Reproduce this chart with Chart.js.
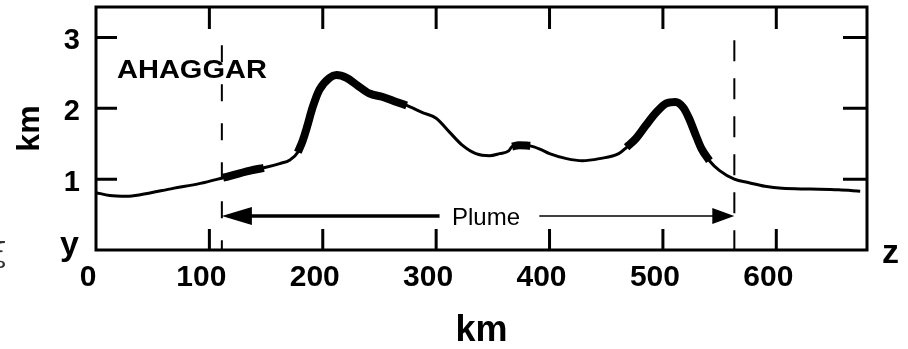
<!DOCTYPE html>
<html lang="en">
<head>
<meta charset="UTF-8">
<title>Ahaggar plume section</title>
<script src="https://cdn.jsdelivr.net/npm/chart.js"></script>
<style>
  body { margin: 0; background: #fff; }
  #wrap { width: 908px; height: 349px; }
</style>
</head>
<body>
<div id="wrap"><canvas id="myChart"></canvas></div>
<script>

// terrain profile: distance (km) and height (km)
const distKm = [0, 12, 27, 39, 68, 92, 112, 136, 148, 162, 171, 178, 182, 186, 191, 197, 206, 212, 221, 230, 241, 253, 265, 274, 288, 300, 312, 323, 335, 347, 356, 364, 367, 373, 383, 392, 400, 415, 429, 444, 461, 468, 476, 485, 494, 503, 511, 518, 523, 529, 534, 541, 550, 563, 576, 590, 605, 630, 655, 674];
const heightKm = [0.81, 0.77, 0.76, 0.78, 0.87, 0.94, 1.02, 1.12, 1.16, 1.22, 1.27, 1.38, 1.53, 1.73, 2.01, 2.26, 2.43, 2.47, 2.43, 2.33, 2.21, 2.16, 2.09, 2.04, 1.94, 1.86, 1.66, 1.48, 1.36, 1.33, 1.36, 1.4, 1.46, 1.48, 1.47, 1.42, 1.36, 1.29, 1.26, 1.29, 1.36, 1.45, 1.57, 1.76, 1.94, 2.07, 2.09, 2.01, 1.86, 1.62, 1.43, 1.26, 1.12, 1.0, 0.95, 0.9, 0.87, 0.86, 0.85, 0.83];

// parts of the profile drawn with the heavy line
const thickRanges = [[112, 148], [178, 274], [366, 385], [468, 541]];

// plume limits (dashed lines) and the arrow under the profile
const plumeX = [111, 563];
const plumeTop = [2.89, 2.96];
const plumeY = 0.48;
const labelGap = [303, 391];

const xTicks = [0, 100, 200, 300, 400, 500, 600];
const yTicks = [1, 2, 3];

const FONT = "'Liberation Sans', Arial, sans-serif";

function inThick(d) {
  return thickRanges.some(r => d >= r[0] && d <= r[1]);
}

const profile = distKm.map((d, i) => ({x: d, y: heightKm[i]}));
const heavy = distKm.map((d, i) => ({x: d, y: inThick(d) ? heightKm[i] : null}));

const decor = {
  id: 'decor',
  afterDraw(chart) {
    const {ctx, chartArea: a, scales: {x, y}} = chart;
    ctx.save();
    ctx.strokeStyle = '#000';
    ctx.fillStyle = '#000';
    ctx.lineWidth = 3;
    ctx.strokeRect(a.left, a.top, a.right - a.left, a.bottom - a.top);

    // inward ticks
    ctx.beginPath();
    xTicks.forEach(v => {
      if (v === 0) return;
      const px = x.getPixelForValue(v);
      ctx.moveTo(px, a.bottom); ctx.lineTo(px, a.bottom - 21);
      ctx.moveTo(px, a.top); ctx.lineTo(px, a.top + 22);
    });
    yTicks.forEach(v => {
      const py = y.getPixelForValue(v);
      ctx.moveTo(a.left, py); ctx.lineTo(a.left + 21, py);
      ctx.moveTo(a.right, py); ctx.lineTo(a.right - 24, py);
    });
    ctx.stroke();

    // arrow heads
    const ay = y.getPixelForValue(plumeY);
    const lx = x.getPixelForValue(plumeX[0]);
    const rx = x.getPixelForValue(plumeX[1]);
    ctx.beginPath();
    ctx.moveTo(lx, ay); ctx.lineTo(lx + 30, ay - 9); ctx.lineTo(lx + 30, ay + 9); ctx.closePath();
    ctx.fill();
    ctx.beginPath();
    ctx.moveTo(rx, ay); ctx.lineTo(rx - 22, ay - 8); ctx.lineTo(rx - 22, ay + 8); ctx.closePath();
    ctx.fill();

    // labels
    ctx.textBaseline = 'alphabetic';
    ctx.textAlign = 'left';
    ctx.font = '24px ' + FONT;
    ctx.fillText('Plume', 452, 225);

    ctx.save();
    ctx.translate(117, 78);
    ctx.scale(1.16, 1);
    ctx.font = 'bold 25px ' + FONT;
    ctx.fillText('AHAGGAR', 0, 0);
    ctx.restore();

    ctx.font = 'bold 34px ' + FONT;
    ctx.textAlign = 'right';
    ctx.fillText('y', 79, 255);
    ctx.textAlign = 'left';
    ctx.fillText('z', 882, 263);

    ctx.font = '28px DejaVu Serif';
    ctx.fillStyle = '#333';
    ctx.fillText('ξ', -9, 262);
    ctx.restore();
  }
};

const config = {
  type: 'line',
  data: {
    datasets: [
      {data: profile, borderColor: '#000', borderWidth: 3, cubicInterpolationMode: 'monotone'},
      {data: heavy, borderColor: '#000', borderWidth: 8, borderCapStyle: 'butt', cubicInterpolationMode: 'monotone'},
      {data: [{x: plumeX[0], y: plumeTop[0]}, {x: plumeX[0], y: 0}], borderColor: '#000', borderWidth: 2, borderDash: [17, 22]},
      {data: [{x: plumeX[1], y: plumeTop[1]}, {x: plumeX[1], y: 0}], borderColor: '#000', borderWidth: 2, borderDash: [21, 17]},
      {data: [{x: plumeX[0] + 20, y: plumeY}, {x: labelGap[0], y: plumeY}], borderColor: '#000', borderWidth: 3.5},
      {data: [{x: labelGap[1], y: plumeY}, {x: plumeX[1] - 15, y: plumeY}], borderColor: '#000', borderWidth: 1.5}
    ]
  },
  options: {
    responsive: true,
    maintainAspectRatio: false,
    animation: false,
    layout: {padding: {top: 7, right: 41, bottom: 0, left: 0}},
    elements: {point: {radius: 0}},
    plugins: {legend: {display: false}, tooltip: {enabled: false}},
    scales: {
      x: {
        type: 'linear', min: 0, max: 680,
        afterBuildTicks: s => { s.ticks = xTicks.map(v => ({value: v})); },
        afterFit: s => { s.height = 99; s.paddingLeft = 0; s.paddingRight = 0; },
        grid: {display: false, drawTicks: false},
        border: {display: false},
        ticks: {padding: 10, labelOffset: -8, color: '#000', maxRotation: 0, autoSkip: false,
                font: {family: FONT, size: 30, weight: 'bold'}},
        title: {display: true, text: 'km', color: '#000', padding: {top: 0, bottom: 0},
                font: {family: FONT, size: 36, weight: 'bold', lineHeight: 1}}
      },
      y: {
        type: 'linear', min: 0, max: 3.43,
        afterBuildTicks: s => { s.ticks = [0].concat(yTicks).map(v => ({value: v})); },
        afterFit: s => { s.width = 96; s.paddingTop = 0; s.paddingBottom = 0; },
        grid: {display: false, drawTicks: false},
        border: {display: false},
        ticks: {padding: 16, labelOffset: 4, color: '#000', callback: v => v === 0 ? '' : v,
                font: {family: FONT, size: 29, weight: 'bold'}},
        title: {display: true, text: 'km', color: '#000', padding: {top: 14, bottom: 0},
                font: {family: FONT, size: 32, weight: 'bold', lineHeight: 1}}
      }
    }
  },
  plugins: [decor]
};

const myChart = new Chart(document.getElementById('myChart'), config);
</script>
</body>
</html>
